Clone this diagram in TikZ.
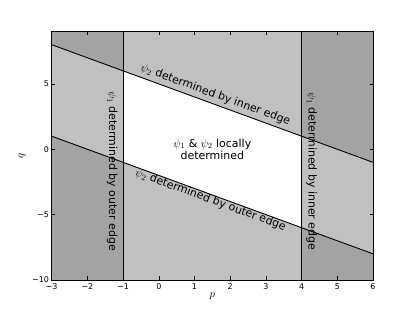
\documentclass[tikz,border=0pt]{standalone}
\usepackage{fontspec}
\setmainfont{DejaVu Sans}
\usetikzlibrary{positioning}
\definecolor{bandlight}{RGB}{192,192,192}
\definecolor{banddark}{RGB}{163,163,163}
\tikzset{
  edgeln/.style={black, line width=0.9bp},
  tickmk/.style={black, line width=0.6bp},
  lbl/.style={font=\fontsize{11}{12.7}\selectfont, inner sep=0pt},
  ticklab/.style={font=\fontsize{8}{9}\selectfont, inner sep=0pt},
  axlab/.style={font=\fontsize{11}{13}\selectfont, inner sep=0pt},
}
\begin{document}
\begin{tikzpicture}[x=35.7bp, y=13.07bp]
\useasboundingbox (-4.448,-12.45) rectangle (7.176,11.42);
% corner points of the axes and of the two edge lines
\coordinate (sw) at (-3,-10); \coordinate (ne) at (6,9);
\coordinate (innerL) at (-3,8); \coordinate (innerR) at (6,-1);
\coordinate (outerL) at (-3,1); \coordinate (outerR) at (6,-8);
\coordinate (cutLb) at (-1,-10); \coordinate (cutLt) at (-1,9);
\coordinate (cutRb) at (4,-10); \coordinate (cutRt) at (4,9);
% shaded regions
\fill[banddark] (sw) rectangle (ne);
\fill[bandlight] (innerL) -- (innerR) -- (outerR) -- (outerL) -- cycle;
\fill[bandlight] (cutLb) rectangle (cutRt);
\fill[white] (-1,6) -- (4,1) -- (4,-6) -- (-1,-1) -- cycle;
% edges and cuts
\draw[edgeln] (innerL) -- (innerR);
\draw[edgeln] (outerL) -- (outerR);
\draw[edgeln] (cutLb) -- (cutLt);
\draw[edgeln] (cutRb) -- (cutRt);
% ticks
\foreach \p/\t [count=\i] in {-3/−3,-2/−2,-1/−1,0/0,1/1,2/2,3/3,4/4,5/5,6/6} {
  \draw[tickmk] (\p,-10) -- ++(0,3.5bp);
  \draw[tickmk] (\p,9) -- ++(0,-3.5bp);
  \node[ticklab, below=3.5bp] (xt\i) at (\p,-10) {\t};
}
\foreach \q/\t [count=\i] in {-10/−10,-5/−5,0/0,5/5} {
  \draw[tickmk] (-3,\q) -- ++(3.5bp,0);
  \draw[tickmk] (6,\q) -- ++(-3.5bp,0);
  \node[ticklab, left=2.5bp] (yt\i) at (-3,\q) {\t};
}
\draw[edgeln] (sw) rectangle (ne);
% region labels
\node[lbl, rotate=-20.11, anchor=base, yshift=6bp] (innertxt) at (1.5,3.5) {$\psi_2$ determined by inner edge};
\node[lbl, rotate=-20.11, anchor=base, yshift=-8.5bp] (outertxt) at (1.5,-3.5) {$\psi_2$ determined by outer edge};
\node[lbl, rotate=-90] (outerv) at (-1.31,-1.68) {$\psi_1$ determined by outer edge};
\node[lbl, rotate=-90] (innerv) at (4.28,-1.68) {$\psi_1$ determined by inner edge};
\node[lbl, align=center] (localtxt) at (1.5,0) {$\psi_1$ \& $\psi_2$ locally\\determined};
% axis labels
\node[axlab] (plab) at (1.5,-11.22) {$p$};
\node[axlab, rotate=90] (qlab) at (-3.83,-0.5) {$q$};
\end{tikzpicture}
\end{document}
